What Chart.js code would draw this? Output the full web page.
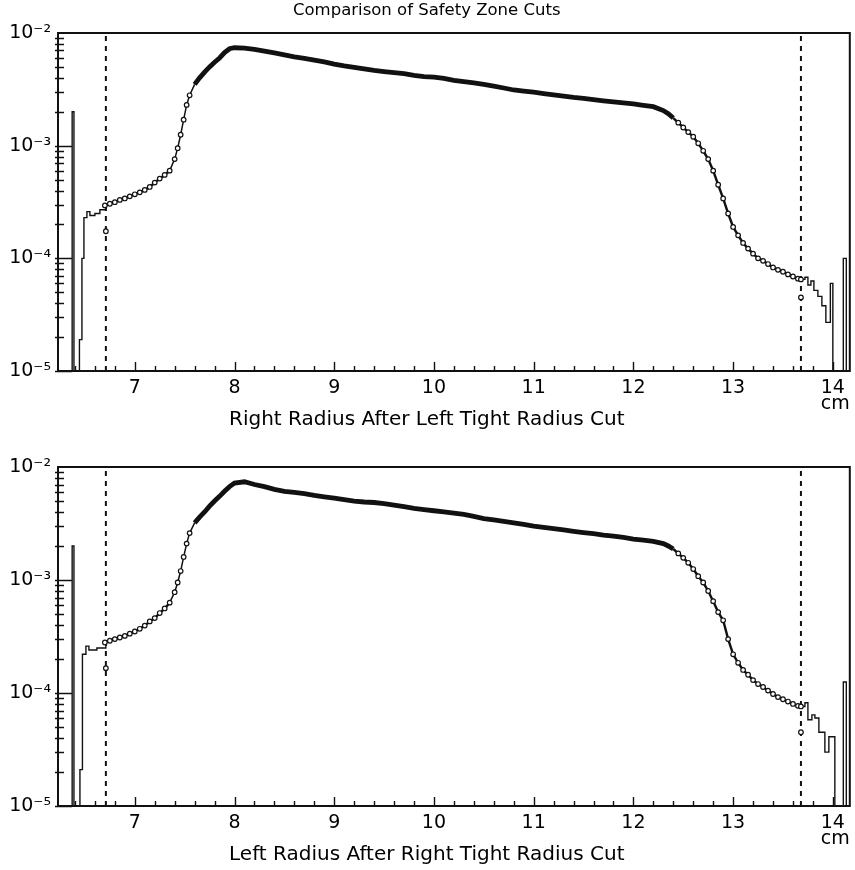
<!DOCTYPE html>
<html><head><meta charset="utf-8">
<script src="https://cdn.jsdelivr.net/npm/chart.js@4"></script>
<style>html,body{margin:0;padding:0;background:#fff;}canvas{display:block;}</style>
</head><body>
<canvas id="topChart" width="855" height="435"></canvas>
<canvas id="bottomChart" width="855" height="435"></canvas>
<script>
// ---------- data ----------
const ZERO = 1e-6; // empty bin (below the axis floor)
const xRange = [6.23, 14.17];
const yRange = [1e-5, 1e-2];
const xTickValues = [7, 8, 9, 10, 11, 12, 13, 14];
const xTickLabels = ['7', '8', '9', '10', '11', '12', '13', '14'];
const xUnit = 'cm';
const yTickValues = [1e-5, 1e-4, 1e-3, 1e-2];
const yTickLabels = ['10⁻⁵', '10⁻⁴', '10⁻³', '10⁻²'];
const chartTitle = 'Comparison of Safety Zone Cuts';
const topAxisTitle = 'Right Radius After Left Tight Radius Cut';
const bottomAxisTitle = 'Left Radius After Right Tight Radius Cut';
const cutX = [6.71, 13.68];

const curveX = [
  6.70, 6.75, 6.80, 6.85, 6.90, 6.95, 7.00, 7.05, 7.10, 7.15,
  7.20, 7.25, 7.30, 7.35, 7.40, 7.43, 7.46, 7.49, 7.52, 7.55,
  7.60, 7.65, 7.70, 7.75, 7.80, 7.85, 7.90, 7.95, 8.00, 8.10,
  8.20, 8.30, 8.40, 8.50, 8.60, 8.70, 8.80, 8.90, 9.00, 9.10,
  9.20, 9.30, 9.40, 9.50, 9.60, 9.70, 9.80, 9.90, 10.0, 10.1,
  10.2, 10.3, 10.4, 10.5, 10.6, 10.7, 10.8, 10.9, 11.0, 11.1,
  11.2, 11.3, 11.4, 11.5, 11.6, 11.7, 11.8, 11.9, 12.0, 12.1,
  12.2, 12.3, 12.35, 12.40, 12.45, 12.50, 12.55, 12.60, 12.65, 12.70,
  12.75, 12.80, 12.85, 12.90, 12.95, 13.00, 13.05, 13.10, 13.15, 13.20,
  13.25, 13.30, 13.35, 13.40, 13.45, 13.50, 13.55, 13.60, 13.65, 13.68
];
const topCurveY = [
  2.95e-4, 3.05e-4, 3.15e-4, 3.3e-4, 3.4e-4, 3.55e-4, 3.7e-4, 3.85e-4, 4.05e-4, 4.3e-4,
  4.7e-4, 5.1e-4, 5.5e-4, 6.0e-4, 7.6e-4, 9.5e-4, 1.25e-3, 1.7e-3, 2.3e-3, 2.8e-3,
  3.5e-3, 4.0e-3, 4.5e-3, 5.0e-3, 5.5e-3, 6.0e-3, 6.7e-3, 7.25e-3, 7.4e-3, 7.35e-3,
  7.15e-3, 6.9e-3, 6.65e-3, 6.4e-3, 6.15e-3, 5.95e-3, 5.75e-3, 5.55e-3, 5.3e-3, 5.1e-3,
  4.95e-3, 4.8e-3, 4.65e-3, 4.55e-3, 4.45e-3, 4.35e-3, 4.2e-3, 4.1e-3, 4.05e-3, 3.95e-3,
  3.8e-3, 3.7e-3, 3.6e-3, 3.5e-3, 3.38e-3, 3.25e-3, 3.12e-3, 3.05e-3, 2.98e-3, 2.9e-3,
  2.82e-3, 2.75e-3, 2.68e-3, 2.63e-3, 2.56e-3, 2.5e-3, 2.45e-3, 2.4e-3, 2.35e-3, 2.28e-3,
  2.22e-3, 2.05e-3, 1.92e-3, 1.76e-3, 1.6e-3, 1.45e-3, 1.32e-3, 1.2e-3, 1.05e-3, 9.0e-4,
  7.6e-4, 6.0e-4, 4.5e-4, 3.4e-4, 2.5e-4, 1.9e-4, 1.6e-4, 1.37e-4, 1.22e-4, 1.1e-4,
  1.0e-4, 9.5e-5, 8.9e-5, 8.3e-5, 7.9e-5, 7.6e-5, 7.2e-5, 6.9e-5, 6.6e-5, 6.5e-5
];
const bottomCurveY = [
  2.8e-4, 2.9e-4, 3.0e-4, 3.1e-4, 3.2e-4, 3.35e-4, 3.5e-4, 3.7e-4, 3.95e-4, 4.3e-4,
  4.6e-4, 5.1e-4, 5.6e-4, 6.3e-4, 7.8e-4, 9.5e-4, 1.2e-3, 1.6e-3, 2.1e-3, 2.6e-3,
  3.2e-3, 3.6e-3, 4.0e-3, 4.5e-3, 5.0e-3, 5.5e-3, 6.1e-3, 6.7e-3, 7.2e-3, 7.4e-3,
  7.0e-3, 6.7e-3, 6.35e-3, 6.1e-3, 5.95e-3, 5.8e-3, 5.6e-3, 5.45e-3, 5.3e-3, 5.15e-3,
  5.0e-3, 4.9e-3, 4.85e-3, 4.75e-3, 4.6e-3, 4.45e-3, 4.3e-3, 4.2e-3, 4.1e-3, 4.0e-3,
  3.9e-3, 3.8e-3, 3.65e-3, 3.5e-3, 3.4e-3, 3.3e-3, 3.2e-3, 3.1e-3, 3.0e-3, 2.92e-3,
  2.85e-3, 2.78e-3, 2.7e-3, 2.63e-3, 2.57e-3, 2.5e-3, 2.45e-3, 2.38e-3, 2.3e-3, 2.25e-3,
  2.2e-3, 2.1e-3, 2.0e-3, 1.88e-3, 1.72e-3, 1.57e-3, 1.42e-3, 1.25e-3, 1.08e-3, 9.5e-4,
  8.0e-4, 6.5e-4, 5.2e-4, 4.4e-4, 3.0e-4, 2.2e-4, 1.85e-4, 1.6e-4, 1.45e-4, 1.3e-4,
  1.2e-4, 1.13e-4, 1.05e-4, 9.8e-5, 9.2e-5, 8.8e-5, 8.4e-5, 8.0e-5, 7.7e-5, 7.6e-5
];

// histogram outside the cuts (each value holds until the next edge)
const topLeftEdges = [6.23, 6.372, 6.39, 6.445, 6.47, 6.49, 6.52, 6.55, 6.60, 6.65, 6.71];
const topLeftCounts = [ZERO, 2.0e-3, ZERO, 1.9e-5, 1.0e-4, 2.3e-4, 2.6e-4, 2.4e-4, 2.5e-4, 2.7e-4, 2.95e-4];
const topRightEdges = [13.68, 13.72, 13.75, 13.78, 13.81, 13.85, 13.89, 13.93, 13.975, 14.0, 14.105, 14.135, 14.17];
const topRightCounts = [6.5e-5, 6.8e-5, 5.8e-5, 6.3e-5, 5.2e-5, 4.6e-5, 3.8e-5, 2.7e-5, 6.0e-5, ZERO, 1.0e-4, ZERO, ZERO];
const bottomLeftEdges = [6.23, 6.372, 6.39, 6.45, 6.475, 6.51, 6.54, 6.62, 6.71];
const bottomLeftCounts = [ZERO, 2.0e-3, ZERO, 2.1e-5, 2.2e-4, 2.6e-4, 2.4e-4, 2.5e-4, 2.8e-4];
const bottomRightEdges = [13.68, 13.72, 13.75, 13.79, 13.82, 13.86, 13.92, 13.96, 14.02, 14.105, 14.135, 14.17];
const bottomRightCounts = [7.6e-5, 8.2e-5, 5.8e-5, 6.4e-5, 6.0e-5, 4.5e-5, 3.0e-5, 4.1e-5, ZERO, 1.25e-4, ZERO, ZERO];

// isolated points sitting on the cut lines
const outlierX = [6.71, 13.68];
const topOutlierY = [1.74e-4, 4.5e-5];
const bottomOutlierY = [1.66e-4, 4.5e-5];

// ---------- drawing ----------
Chart.defaults.font.family = "'DejaVu Sans', sans-serif";
Chart.defaults.color = '#000';
const INK = '#111';

const zip = (xs, ys) => xs.map((x, i) => ({x: x, y: ys[i]}));

function segWidth(x0, x1) {
  if (x0 >= 7.57 && x1 <= 12.42) return 4.8;
  if (x0 >= 7.35 && x1 <= 7.6) return 1.5;
  return 2.4;
}

const frameTicks = {
  id: 'frameTicks',
  afterDraw(chart) {
    const {ctx, chartArea: a, scales: {x, y}} = chart;
    ctx.save();
    ctx.strokeStyle = INK;
    ctx.lineWidth = 2;
    ctx.strokeRect(a.left, a.top, a.right - a.left, a.bottom - a.top);
    ctx.lineWidth = 1.4;
    ctx.beginPath();
    for (let t = 32; t <= 70; t++) {
      const v = t / 5;
      const px = Math.round(x.getPixelForValue(v)) + 0.5;
      const len = (t % 5 === 0) ? 9 : 5;
      ctx.moveTo(px, a.bottom);
      ctx.lineTo(px, a.bottom - len);
    }
    for (let e = -5; e < -2; e++) {
      for (let k = 1; k <= 9; k++) {
        const v = k * Math.pow(10, e);
        const py = Math.round(y.getPixelForValue(v)) + 0.5;
        ctx.moveTo(a.left - 3, py);
        ctx.lineTo(a.left + (k === 1 ? 14 : 6), py);
      }
    }
    ctx.stroke();
    ctx.restore();
  }
};

function makeChart(id, curveY, leftE, leftC, rightE, rightC, outY, axisTitle, withTitle) {
  const datasets = [
    {
      label: 'measured',
      data: zip(curveX, curveY),
      borderColor: INK,
      borderWidth: 2.4,
      segment: { borderWidth: c => segWidth(c.p0.parsed.x, c.p1.parsed.x) },
      pointRadius: c => { const r = c.raw; return (r && r.x > 7.57 && r.x < 12.42) ? 0 : 2.3; },
      pointBorderWidth: 1.2,
      pointBackgroundColor: '#fff',
      pointBorderColor: INK,
      tension: 0
    },
    {
      label: 'left histogram',
      data: zip(leftE, leftC),
      stepped: 'before',
      borderColor: INK, borderWidth: 1.4, pointRadius: 0
    },
    {
      label: 'right histogram',
      data: zip(rightE, rightC),
      stepped: 'before',
      borderColor: INK, borderWidth: 1.4, pointRadius: 0
    },
    {
      label: 'outliers',
      data: zip(outlierX, outY),
      showLine: false,
      pointRadius: 2.3, pointBorderWidth: 1.2,
      pointBackgroundColor: '#fff', pointBorderColor: INK
    }
  ];
  cutX.forEach(cx => datasets.push({
    label: 'cut',
    data: [{x: cx, y: yRange[0]}, {x: cx, y: yRange[1]}],
    borderColor: INK, borderWidth: 2, borderDash: [5, 5], pointRadius: 0
  }));

  return new Chart(document.getElementById(id), {
    type: 'line',
    data: { datasets: datasets },
    options: {
      responsive: false,
      animation: false,
      devicePixelRatio: 1,
      layout: { padding: { left: 0, right: 1.5, top: withTitle ? 0 : 32, bottom: 0 } },
      plugins: {
        legend: { display: false },
        tooltip: { enabled: false },
        title: {
          display: withTitle,
          text: chartTitle,
          font: { size: 16.5, weight: 'normal', lineHeight: 1.2 },
          color: '#000',
          padding: { top: 1, bottom: 12.2 }
        },
        subtitle: {
          display: true,
          position: 'bottom',
          text: axisTitle,
          font: { size: 20, weight: 'normal', lineHeight: 1.2 },
          color: '#000',
          padding: { top: -8, bottom: 3 }
        }
      },
      scales: {
        x: {
          type: 'linear',
          min: xRange[0], max: xRange[1],
          grid: { display: false, drawTicks: false },
          border: { display: false },
          ticks: {
            autoSkip: false, maxRotation: 0, padding: 8,
            font: { size: 19, lineHeight: 1.0 },
            callback: (v, i) => xTickLabels[i]
          },
          title: {
            display: true, text: xUnit, align: 'end',
            font: { size: 19, lineHeight: 1.0 },
            color: '#000',
            padding: { top: 0, bottom: 2 }
          },
          afterBuildTicks: s => { s.ticks = xTickValues.map(v => ({value: v})); },
          afterFit: s => { s.height = 45; }
        },
        y: {
          type: 'logarithmic',
          min: yRange[0], max: yRange[1],
          grid: { display: false, drawTicks: false },
          border: { display: false },
          ticks: {
            autoSkip: false, padding: 7,
            font: { size: 19 },
            callback: (v, i) => yTickLabels[i]
          },
          afterBuildTicks: s => { s.ticks = yTickValues.map(v => ({value: v})); },
          afterFit: s => { s.width = 58; }
        }
      }
    },
    plugins: [frameTicks]
  });
}

makeChart('topChart', topCurveY, topLeftEdges, topLeftCounts, topRightEdges, topRightCounts,
          topOutlierY, topAxisTitle, true);
makeChart('bottomChart', bottomCurveY, bottomLeftEdges, bottomLeftCounts, bottomRightEdges, bottomRightCounts,
          bottomOutlierY, bottomAxisTitle, false);
</script>
</body></html>
